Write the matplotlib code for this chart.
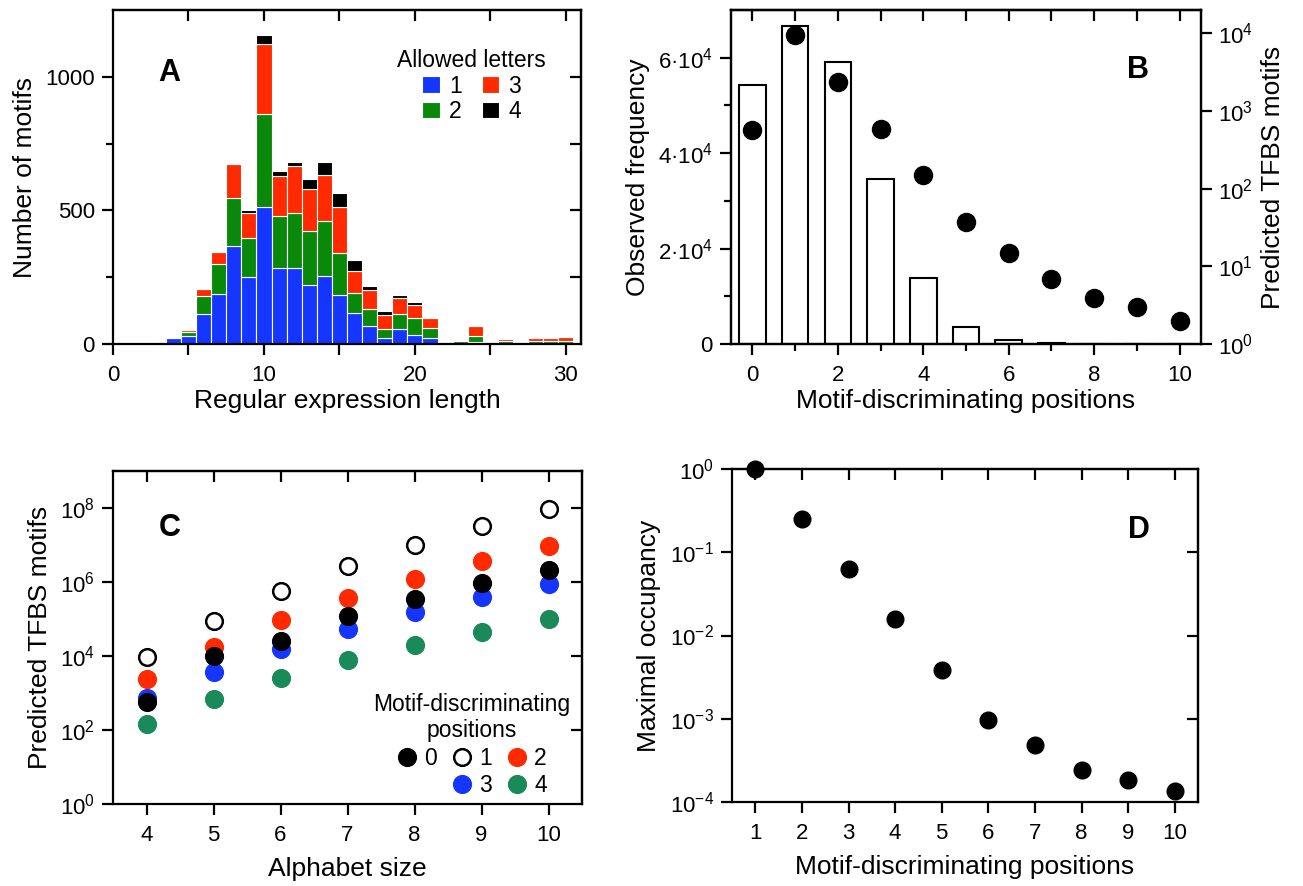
import numpy as np
import matplotlib.pyplot as plt
from matplotlib.lines import Line2D
from matplotlib.ticker import FixedLocator, NullLocator

plt.rcParams['font.family'] = ['Liberation Sans', 'DejaVu Sans']
plt.rcParams['mathtext.fontset'] = 'custom'
plt.rcParams['mathtext.rm'] = 'Liberation Sans'
plt.rcParams['mathtext.it'] = 'Liberation Sans:italic'
plt.rcParams['mathtext.bf'] = 'Liberation Sans:bold'
plt.rcParams['axes.linewidth'] = 1.6

# panel A: motifs per regular expression length, split by allowed letters
reg_len = [4, 5, 6, 7, 8, 9, 10, 11, 12, 13, 14, 15, 16, 17, 18, 19, 20, 21,
           22, 23, 24, 25, 26, 27, 28, 29, 30]
letters_1 = [22, 29, 112, 187, 366, 250, 512, 284, 284, 221, 256, 185, 115, 67,
             24, 55, 34, 22, 0, 5, 6, 0, 4, 0, 2, 2, 2]
letters_2 = [4, 17, 69, 112, 180, 147, 350, 195, 206, 201, 204, 156, 76, 63,
             32, 57, 62, 37, 0, 5, 25, 0, 6, 0, 8, 8, 8]
letters_3 = [1, 8, 26, 47, 126, 93, 260, 148, 175, 158, 171, 171, 81, 72,
             51, 60, 51, 37, 0, 5, 37, 0, 7, 0, 13, 13, 15]
letters_4 = [1, 2, 2, 1, 5, 10, 35, 19, 16, 39, 50, 53, 43, 14,
             15, 13, 9, 6, 0, 4, 1, 0, 5, 0, 2, 2, 2]
letter_names = ['1', '2', '3', '4']
letter_colors = ['#1436ff', '#0a880a', '#ff2a00', '#000000']

# panel B: observed frequency (bars) and predicted TFBS motifs (dots)
disc_pos = [0, 1, 2, 3, 4, 5, 6, 7, 8, 9, 10]
obs_freq = [54300, 66600, 59200, 34500, 13800, 3600, 770, 210, 70, 30, 10]
pred_motifs = [566, 9500, 2400, 595, 149, 37, 14.9, 6.8, 3.9, 2.97, 1.96]

# panel C: predicted TFBS motifs vs alphabet size
alphabet = [4, 5, 6, 7, 8, 9, 10]
pred_c0 = [560, 1.02e4, 2.6e4, 1.18e5, 3.5e5, 9.4e5, 2.15e6]
pred_c1 = [9.6e3, 9.0e4, 5.6e5, 2.65e6, 1.0e7, 3.26e7, 9.6e7]
pred_c2 = [2440, 1.8e4, 9.2e4, 3.7e5, 1.23e6, 3.6e6, 9.6e6]
pred_c3 = [730, 3620, 1.55e4, 5.4e4, 1.55e5, 3.9e5, 9.0e5]
pred_c4 = [148, 703, 2600, 7960, 1.94e4, 4.45e4, 1.02e5]

# panel D: maximal occupancy
disc_pos_d = [1, 2, 3, 4, 5, 6, 7, 8, 9, 10]
max_occ = [1.0, 0.251, 0.0625, 0.0157, 0.0039, 0.00097, 4.8e-4, 2.42e-4,
           1.84e-4, 1.37e-4]

TICK_FS = 16
LABEL_FS = 19
LW = 1.6


def base_ticks(ax):
    ax.tick_params(which='both', direction='out', width=LW, labelsize=TICK_FS,
                   top=False, right=False)
    ax.tick_params(which='major', length=8)
    ax.tick_params(which='minor', length=5)
    ax.tick_params(axis='y', which='both', pad=5)
    ax.tick_params(axis='x', which='both', pad=7)


def inner_top(ax, ticks):
    sec = ax.secondary_xaxis('top')
    sec.xaxis.set_major_locator(FixedLocator(ticks))
    sec.xaxis.set_minor_locator(NullLocator())
    sec.tick_params(direction='in', length=8, width=LW, labeltop=False)
    sec.spines['top'].set_linewidth(LW)


def inner_right(ax, ticks):
    sec = ax.secondary_yaxis('right')
    sec.yaxis.set_major_locator(FixedLocator(ticks))
    sec.yaxis.set_minor_locator(NullLocator())
    sec.tick_params(direction='in', length=8, width=LW, labelright=False)
    sec.spines['right'].set_linewidth(LW)


fig = plt.figure(figsize=(13.03, 8.86), dpi=100)

# ---------------- A
ax_a = fig.add_axes([113 / 1303, 542 / 886, 468 / 1303, 334 / 886])
bottom = np.zeros(len(reg_len))
bars_a = []
for vals, name, col in zip([letters_1, letters_2, letters_3, letters_4],
                           letter_names, letter_colors):
    b = ax_a.bar(reg_len, vals, width=1.0, bottom=bottom, color=col,
                 edgecolor='white', linewidth=0.8, label=name)
    bars_a.append(b)
    bottom = bottom + np.array(vals)
ax_a.set_xlim(0, 31)
ax_a.set_ylim(0, 1250)
base_ticks(ax_a)
ax_a.set_xticks([0, 10, 20, 30])
ax_a.set_xticks([5, 15, 25], minor=True)
ax_a.tick_params(axis='x', which='minor', length=8)
ax_a.set_yticks([0, 500, 1000])
ax_a.set_yticks([250, 750], minor=True)
inner_top(ax_a, [5, 10, 15, 20, 25, 30])
inner_right(ax_a, [250, 500, 750, 1000])
ax_a.set_xlabel('Regular expression length', fontsize=LABEL_FS, labelpad=2)
ax_a.set_ylabel('Number of motifs', fontsize=LABEL_FS, labelpad=6)
ax_a.text(0.12, 0.81, 'A', transform=ax_a.transAxes, fontsize=22,
          fontweight='bold', ha='center', va='center')
leg_a = ax_a.legend(handles=bars_a, ncol=2, title='Allowed letters',
                    loc='upper right', bbox_to_anchor=(0.96, 0.93),
                    frameon=False, fontsize=16.5, title_fontsize=16.5,
                    handlelength=0.75, handleheight=0.75, handletextpad=0.4,
                    columnspacing=0.9, labelspacing=0.1, borderpad=0.2)

# ---------------- B
ax_b = fig.add_axes([731 / 1303, 542 / 886, 470 / 1303, 334 / 886])
ax_b.bar(disc_pos, obs_freq, width=0.62, color='white', edgecolor='black',
         linewidth=1.5)
ax_b.set_xlim(-0.5, 10.5)
ax_b.set_ylim(0, 70000)
base_ticks(ax_b)
ax_b.set_xticks([0, 2, 4, 6, 8, 10])
ax_b.set_xticks([1, 3, 5, 7, 9], minor=True)
ax_b.set_yticks([0, 20000, 40000, 60000])
ax_b.set_yticklabels(['0', '2·10$^4$', '4·10$^4$', '6·10$^4$'])
ax_b.set_yticks([10000, 30000, 50000], minor=True)
inner_top(ax_b, disc_pos)
ax_b.set_xlabel('Motif-discriminating positions', fontsize=LABEL_FS,
                labelpad=2)
ax_b.set_ylabel('Observed frequency', fontsize=LABEL_FS, labelpad=6)
ax_b2 = ax_b.twinx()
ax_b2.plot(disc_pos, pred_motifs, 'o', color='black', markersize=13,
           clip_on=False, zorder=5)
ax_b2.set_yscale('log')
ax_b2.set_ylim(1, 2e4)
ax_b2.yaxis.set_major_locator(FixedLocator([1, 10, 100, 1000, 10000]))
ax_b2.yaxis.set_minor_locator(NullLocator())
ax_b2.tick_params(direction='out', length=8, width=LW, labelsize=TICK_FS,
                  pad=4)
ax_b2.set_ylabel('Predicted TFBS motifs', fontsize=LABEL_FS, labelpad=6)
ax_b2.text(0.866, 0.82, 'B', transform=ax_b2.transAxes, fontsize=22,
           fontweight='bold', ha='center', va='center')

# ---------------- C
ax_c = fig.add_axes([113 / 1303, 82 / 886, 469 / 1303, 333 / 886])
c_series = [pred_c0, pred_c1, pred_c2, pred_c3, pred_c4]
c_face = ['black', 'white', '#ff2a00', '#1436ff', '#1b8a5a']
c_edge = ['black', 'black', '#ff2a00', '#1436ff', '#1b8a5a']
c_names = ['0', '1', '2', '3', '4']
c_handles = [None] * 5
for i in [4, 3, 2, 1, 0]:
    h, = ax_c.plot(alphabet, c_series[i], 'o', markersize=12,
                   markerfacecolor=c_face[i], markeredgecolor=c_edge[i],
                   markeredgewidth=1.8, label=c_names[i], zorder=3 + (4 - i))
    c_handles[i] = h
ax_c.set_yscale('log')
ax_c.set_xlim(3.5, 10.5)
ax_c.set_ylim(1, 1e9)
base_ticks(ax_c)
ax_c.set_xticks(alphabet)
ax_c.yaxis.set_major_locator(FixedLocator([1, 1e2, 1e4, 1e6, 1e8]))
ax_c.yaxis.set_minor_locator(NullLocator())
inner_top(ax_c, alphabet)
inner_right(ax_c, [1e2, 1e4, 1e6, 1e8])
ax_c.set_xlabel('Alphabet size', fontsize=LABEL_FS, labelpad=8)
ax_c.set_ylabel('Predicted TFBS motifs', fontsize=LABEL_FS, labelpad=6)
ax_c.text(0.12, 0.83, 'C', transform=ax_c.transAxes, fontsize=22,
          fontweight='bold', ha='center', va='center')
blank = Line2D([], [], linestyle='none', marker=None)
leg_c = ax_c.legend(handles=[c_handles[0], blank, c_handles[1], c_handles[3],
                             c_handles[2], c_handles[4]],
                    labels=['0', '', '1', '3', '2', '4'], ncol=3,
                    title='Motif-discriminating\npositions',
                    loc='lower right', bbox_to_anchor=(1.015, -0.035),
                    frameon=False, fontsize=16.5, title_fontsize=16.5,
                    handlelength=0.8, handletextpad=0.35, columnspacing=0.7,
                    labelspacing=0.2, borderpad=0.3)
leg_c.get_title().set_multialignment('center')

# ---------------- D
ax_d = fig.add_axes([732 / 1303, 84 / 886, 466 / 1303, 333 / 886])
ax_d.plot(disc_pos_d, max_occ, 'o', color='black', markersize=12,
          clip_on=False, zorder=5)
ax_d.set_yscale('log')
ax_d.set_xlim(0.5, 10.5)
ax_d.set_ylim(1e-4, 1)
base_ticks(ax_d)
ax_d.set_xticks(disc_pos_d)
ax_d.yaxis.set_major_locator(FixedLocator([1e-4, 1e-3, 1e-2, 1e-1, 1]))
ax_d.yaxis.set_minor_locator(NullLocator())
inner_top(ax_d, disc_pos_d)
inner_right(ax_d, [1e-3, 1e-2, 1e-1])
ax_d.set_xlabel('Motif-discriminating positions', fontsize=LABEL_FS,
                labelpad=8)
ax_d.set_ylabel('Maximal occupancy', fontsize=LABEL_FS, labelpad=6)
ax_d.text(0.873, 0.817, 'D', transform=ax_d.transAxes, fontsize=22,
          fontweight='bold', ha='center', va='center')

fig.savefig('out.png', dpi=100)
